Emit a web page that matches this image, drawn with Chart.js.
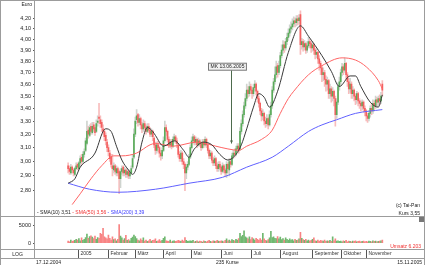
<!DOCTYPE html>
<html>
<head>
<meta charset="utf-8">
<script src="https://cdn.jsdelivr.net/npm/chart.js@4.4.1/dist/chart.umd.min.js"></script>
<style>
  html, body { margin: 0; padding: 0; background: #fff; }
  #wrap { position: relative; width: 425px; height: 265px; overflow: hidden;
          font-family: 'Liberation Sans', Arial, sans-serif; color: #222; }
  #wrap canvas { position: absolute; left: 0; }
  .t { position: absolute; font-size: 5px; line-height: 6px; white-space: nowrap; }
  .ln { position: absolute; background: #9c9c9c; }
</style>
</head>
<body>
<div id="wrap">
  <canvas id="priceChart" width="425" height="217" style="top:0"></canvas>
  <canvas id="volChart" width="425" height="41" style="top:217px"></canvas>

  <div class="ln" style="left:0;top:0;width:425px;height:1px"></div>
  <div class="ln" style="left:0;top:0;width:1px;height:265px"></div>
  <div class="ln" style="left:424px;top:0;width:1px;height:265px"></div>
  <div class="ln" style="left:34px;top:0;width:1px;height:258px"></div>
  <div class="ln" style="left:0;top:216px;width:425px;height:1px"></div>
  <div class="ln" style="left:0;top:249px;width:425px;height:1px"></div>
  <div class="ln" style="left:0;top:258px;width:425px;height:1px"></div>
  <div style="position:absolute;left:419px;top:217px;width:5px;height:5px;background:#777"></div>

  <div class="t" style="right:393px;top:1px">Euro</div>
  <div class="t" style="left:37px;top:209px">
    <span style="color:#222">- SMA(10) 3,51</span>
    <span style="color:#f03030">- SMA(50) 3,56</span>
    <span style="color:#3a3aff">- SMA(200) 3,39</span>
  </div>
  <div class="t" style="right:5px;top:202px">(c) Tai-Pan</div>
  <div class="t" style="right:5px;top:210px">Kurs 3,55</div>
  <div class="t" style="right:4px;top:243px;color:#f03030">Umsatz 6.203</div>
  <div class="t" style="left:0;width:35px;text-align:center;top:251px">LOG</div>
  <div class="t" style="left:36px;top:259px">17.12.2004</div>
  <div class="t" style="left:216px;top:259px">235 Kurse</div>
  <div class="t" style="right:3px;top:259px">15.11.2005</div>
</div>

<script>
// daily bars, 17.12.2004 .. 15.11.2005 (index 0..234)
const opens = [
  2.97,2.95,2.92,2.96,2.94,2.91,2.95,2.98,2.95,2.99,
  3.03,3.00,3.05,3.08,3.13,3.23,3.19,3.26,3.21,3.27,
  3.25,3.22,3.29,3.33,3.31,3.29,3.24,3.22,3.19,3.14,
  3.10,3.06,3.03,2.97,2.94,2.97,2.92,2.95,2.93,2.88,
  2.93,2.96,2.92,2.94,2.91,2.93,2.90,2.92,2.96,3.03,
  3.20,3.31,3.35,3.29,3.32,3.27,3.24,3.28,3.25,3.22,
  3.26,3.23,3.20,3.22,3.17,3.12,3.08,3.12,3.10,3.06,
  3.04,3.08,3.15,3.25,3.22,3.16,3.12,3.14,3.11,3.16,
  3.18,3.15,3.12,3.05,3.02,3.06,3.00,2.98,2.92,2.96,
  2.98,3.03,3.10,3.15,3.18,3.14,3.16,3.12,3.15,3.13,
  3.10,3.14,3.12,3.16,3.12,3.08,3.04,3.06,3.01,2.99,
  3.02,2.97,2.95,2.98,2.96,2.93,2.97,2.94,2.92,2.98,
  2.94,3.00,2.98,3.04,3.06,3.05,3.09,3.11,3.09,3.22,
  3.28,3.35,3.42,3.48,3.55,3.52,3.58,3.55,3.52,3.57,
  3.60,3.54,3.48,3.44,3.38,3.34,3.36,3.30,3.28,3.32,
  3.27,3.35,3.42,3.55,3.62,3.68,3.76,3.70,3.76,3.85,
  3.90,3.95,3.92,3.98,4.02,4.06,4.10,4.12,4.15,4.18,
  4.16,4.20,4.18,4.24,3.95,3.98,3.93,3.96,3.90,3.94,
  3.98,3.96,3.92,3.95,3.90,3.86,3.88,3.82,3.78,3.74,
  3.68,3.70,3.64,3.60,3.63,3.52,3.56,3.50,3.54,3.48,
  3.35,3.45,3.58,3.62,3.70,3.75,3.72,3.78,3.68,3.62,
  3.56,3.60,3.52,3.55,3.50,3.47,3.52,3.46,3.44,3.42,
  3.45,3.40,3.38,3.34,3.32,3.36,3.40,3.38,3.44,3.42,
  3.47,3.45,3.48,3.46,3.60
];
const highs = [
  2.99,2.97,2.98,2.97,2.95,2.96,2.99,2.99,3.00,3.04,
  3.05,3.07,3.09,3.17,3.30,3.26,3.27,3.28,3.29,3.29,
  3.27,3.31,3.34,3.44,3.34,3.31,3.27,3.24,3.21,3.16,
  3.12,3.08,3.05,3.05,2.99,2.98,2.97,2.96,2.94,2.95,
  2.97,2.97,2.96,2.95,2.95,2.94,2.94,2.97,3.05,3.24,
  3.33,3.39,3.36,3.35,3.33,3.29,3.31,3.30,3.27,3.28,
  3.28,3.25,3.24,3.23,3.18,3.14,3.14,3.15,3.11,3.08,
  3.10,3.18,3.30,3.27,3.23,3.18,3.16,3.16,3.18,3.20,
  3.19,3.17,3.13,3.07,3.08,3.07,3.02,2.99,2.98,3.00,
  3.05,3.12,3.18,3.20,3.19,3.18,3.17,3.17,3.16,3.14,
  3.16,3.16,3.18,3.17,3.13,3.09,3.08,3.07,3.03,3.04,
  3.03,2.99,3.00,3.00,2.97,2.99,2.98,2.95,3.00,2.99,
  3.02,3.02,3.06,3.08,3.09,3.11,3.13,3.13,3.25,3.31,
  3.38,3.45,3.52,3.60,3.58,3.62,3.60,3.57,3.60,3.63,
  3.61,3.55,3.50,3.45,3.40,3.39,3.37,3.33,3.35,3.33,
  3.38,3.45,3.58,3.65,3.75,3.80,3.78,3.80,3.88,3.95,
  3.99,3.98,4.01,4.06,4.10,4.14,4.17,4.20,4.22,4.21,
  4.23,4.23,4.24,4.28,4.01,4.00,3.99,3.97,3.98,4.02,
  4.00,3.98,3.98,3.96,3.92,3.91,3.89,3.85,3.80,3.76,
  3.74,3.72,3.67,3.66,3.64,3.60,3.58,3.57,3.55,3.50,
  3.48,3.61,3.66,3.73,3.78,3.77,3.83,3.79,3.70,3.65,
  3.65,3.62,3.58,3.56,3.52,3.54,3.53,3.48,3.46,3.47,
  3.46,3.42,3.39,3.36,3.38,3.42,3.44,3.47,3.46,3.50,
  3.49,3.50,3.51,3.53,3.63
];
const lows = [
  2.92,2.91,2.91,2.92,2.90,2.90,2.94,2.94,2.94,2.97,
  2.98,2.99,3.03,3.07,3.12,3.17,3.18,3.20,3.20,3.22,
  3.19,3.21,3.26,3.28,3.25,3.22,3.20,3.15,3.12,3.07,
  3.04,3.00,2.96,2.90,2.92,2.91,2.90,2.90,2.78,2.82,
  2.91,2.90,2.90,2.89,2.89,2.88,2.88,2.91,2.95,3.02,
  3.18,3.28,3.26,3.27,3.24,3.21,3.22,3.23,3.20,3.21,
  3.21,3.18,3.18,3.15,3.10,3.05,3.06,3.07,3.03,3.01,
  3.02,3.07,3.14,3.19,3.14,3.10,3.10,3.09,3.10,3.14,
  3.13,3.10,3.03,3.00,3.00,2.98,2.95,2.80,2.88,2.94,
  2.97,3.02,3.09,3.13,3.12,3.12,3.10,3.11,3.11,3.08,
  3.09,3.10,3.11,3.10,3.06,3.02,3.02,2.99,2.97,2.97,
  2.95,2.93,2.93,2.94,2.91,2.92,2.92,2.90,2.89,2.92,
  2.90,2.96,2.97,3.02,3.03,3.04,3.07,3.06,3.08,3.20,
  3.26,3.33,3.40,3.46,3.49,3.50,3.52,3.48,3.50,3.54,
  3.51,3.45,3.41,3.35,3.30,3.31,3.27,3.25,3.26,3.24,
  3.26,3.33,3.40,3.53,3.60,3.65,3.66,3.68,3.74,3.83,
  3.87,3.88,3.90,3.95,3.99,4.03,4.07,4.09,4.12,4.12,
  4.13,4.14,4.15,3.86,3.91,3.89,3.90,3.87,3.88,3.92,
  3.92,3.88,3.89,3.86,3.82,3.83,3.78,3.72,3.68,3.62,
  3.63,3.58,3.54,3.55,3.48,3.48,3.45,3.46,3.42,3.26,
  3.32,3.43,3.55,3.60,3.67,3.68,3.70,3.64,3.58,3.52,
  3.53,3.48,3.48,3.46,3.43,3.44,3.42,3.40,3.38,3.39,
  3.37,3.34,3.30,3.29,3.30,3.33,3.35,3.36,3.38,3.40,
  3.41,3.42,3.43,3.44,3.50
];
const closes = [
  2.95,2.93,2.96,2.94,2.92,2.95,2.97,2.96,2.99,3.02,
  3.00,3.05,3.07,3.15,3.22,3.20,3.25,3.22,3.26,3.24,
  3.21,3.28,3.30,3.32,3.28,3.25,3.22,3.18,3.15,3.10,
  3.07,3.02,2.98,2.95,2.97,2.93,2.95,2.92,2.88,2.93,
  2.95,2.92,2.94,2.91,2.93,2.90,2.92,2.95,3.02,3.20,
  3.30,3.34,3.29,3.32,3.27,3.24,3.28,3.25,3.22,3.26,
  3.23,3.20,3.22,3.18,3.12,3.08,3.12,3.10,3.06,3.04,
  3.08,3.15,3.25,3.22,3.16,3.12,3.14,3.11,3.16,3.18,
  3.15,3.13,3.05,3.02,3.06,3.00,2.98,2.92,2.96,2.98,
  3.03,3.10,3.15,3.18,3.14,3.16,3.12,3.15,3.13,3.10,
  3.14,3.12,3.16,3.12,3.08,3.04,3.06,3.01,2.99,3.02,
  2.97,2.95,2.98,2.96,2.93,2.97,2.94,2.92,2.98,2.95,
  3.00,2.98,3.04,3.06,3.05,3.09,3.11,3.08,3.22,3.28,
  3.35,3.42,3.48,3.55,3.52,3.58,3.55,3.52,3.57,3.60,
  3.54,3.48,3.44,3.38,3.34,3.36,3.30,3.28,3.32,3.27,
  3.35,3.42,3.55,3.62,3.68,3.75,3.70,3.76,3.85,3.90,
  3.95,3.92,3.98,4.02,4.06,4.10,4.12,4.15,4.18,4.16,
  4.20,4.18,4.21,3.95,3.98,3.93,3.96,3.90,3.94,3.98,
  3.96,3.92,3.95,3.90,3.86,3.88,3.82,3.78,3.74,3.68,
  3.70,3.64,3.60,3.63,3.52,3.56,3.50,3.54,3.48,3.35,
  3.45,3.58,3.62,3.70,3.75,3.72,3.78,3.68,3.62,3.56,
  3.60,3.52,3.55,3.50,3.47,3.52,3.46,3.44,3.42,3.45,
  3.40,3.38,3.34,3.32,3.36,3.40,3.38,3.44,3.42,3.47,
  3.45,3.48,3.46,3.50,3.55
];
const volumes = [
  600,400,900,500,700,800,1100,900,1300,700,
  1500,800,1100,1600,2600,1400,1900,2100,1700,1300,
  2000,1100,1600,1400,2800,2500,4200,1800,1500,1200,
  2300,1400,900,1800,1000,1200,700,1100,5300,2000,
  1500,900,1300,2200,800,1000,700,1400,1700,2300,
  1900,1300,900,700,1200,800,1500,600,900,500,
  700,1100,600,800,900,1200,500,700,1000,600,
  800,1400,1800,700,600,500,900,400,600,700,
  500,600,800,700,500,900,600,1600,800,500,
  600,700,600,800,400,500,700,400,600,500,
  300,700,500,400,600,800,500,400,700,600,
  500,800,600,500,700,600,400,800,1200,700,
  900,600,1000,800,700,1100,900,1300,2800,1900,
  2200,3500,1800,1500,1200,1800,1000,1600,1200,900,
  1400,1100,800,1300,900,2800,1200,800,700,1000,
  1500,3400,1600,1800,1400,1300,1900,1200,1700,1000,
  1300,900,1500,1100,800,1200,900,1000,700,1100,
  800,900,1200,3100,1400,1000,800,1100,700,900,
  600,800,1100,1500,700,600,900,500,800,700,
  600,900,500,700,600,800,500,1800,700,1200,
  600,700,500,600,400,700,500,800,400,600,
  500,400,600,500,700,400,500,600,400,500,
  600,400,500,400,600,500,400,700,500,600,
  400,500,600,700,900
];

// moving averages (bar index -> value)
const sma10Idx = [0,5,9,20,26,28,32,36,40,45,48,51,55,59,63,65,71,79,86,90,94,101,107,113,119,125,129,133,138,142,146,150,156,164,173,179,189,196,202,210,214,218,225,231,234];
const sma10Val = [2.85,2.88,2.96,3.06,3.22,3.24,3.22,3.11,3.01,2.94,2.91,2.96,3.14,3.25,3.22,3.19,3.11,3.15,3.08,3.03,3.09,3.14,3.12,3.05,3.01,3.05,3.12,3.24,3.41,3.52,3.49,3.41,3.54,3.88,4.13,4.03,3.85,3.71,3.58,3.67,3.67,3.58,3.45,3.41,3.51];
const sma50Idx = [3,9,17,25,34,40,51,61,65,78,96,110,119,127,133,144,152,158,164,168,179,189,204,214,222,231,234];
const sma50Val = [2.71,2.78,2.88,2.97,3.04,3.04,3.06,3.12,3.13,3.11,3.14,3.11,3.09,3.08,3.11,3.16,3.23,3.36,3.48,3.54,3.68,3.76,3.83,3.81,3.75,3.63,3.56];
const sma200Idx = [0,16,37,65,90,115,133,152,164,179,189,200,214,234];
const sma200Val = [2.85,2.81,2.79,2.81,2.85,2.89,2.96,3.03,3.11,3.22,3.27,3.31,3.36,3.39];

const yTicks = [2.8,2.9,3.0,3.1,3.2,3.3,3.4,3.5,3.6,3.7,3.8,3.9,4.0,4.1,4.2];
const volTicks = [0, 5000];
const monthStarts = [8,30,50,71,92,114,137,158,182,204,222];
const monthNames = ['2005','Februar','März','April','Mai','Juni','Juli','August','September','Oktober','November'];

const markIdx = 121;
const markTop = 3.72;
const markBottom = 3.13;
const markLabel = 'MK 13.06.2005';

/* ---------- scale ranges ---------- */
const xMin = -0.6, xMax = 240.2;
const yMin = 2.665, yMax = 4.335;
const volMin = -1667, volMax = 5952;

const FONT = "'Liberation Sans', Arial, sans-serif";
const idx = closes.map((_, i) => i);
const isUp = i => closes[i] >= opens[i];
const pts = (xs, ys) => xs.map((x, k) => ({ x, y: ys[k] }));

const axisY = extra => Object.assign({
  afterFit: s => { s.width = 34; },
  grid: { drawOnChartArea: false, tickLength: 2, color: '#555' },
  border: { display: false }
}, extra);

// annotation: label box with a line pointing down at the bar
const markPlugin = {
  id: 'mark',
  afterDatasetsDraw(chart) {
    const { ctx, scales: { x, y } } = chart;
    const px = Math.round(x.getPixelForValue(markIdx)) + 0.5;
    const top = y.getPixelForValue(markTop);
    const bot = y.getPixelForValue(markBottom);
    ctx.save();
    ctx.strokeStyle = '#4d6b4d';
    ctx.lineWidth = 1;
    ctx.beginPath(); ctx.moveTo(px, top); ctx.lineTo(px, bot); ctx.stroke();
    ctx.fillStyle = '#4d6b4d';
    ctx.beginPath(); ctx.moveTo(px - 1.5, bot - 3); ctx.lineTo(px + 1.5, bot - 3); ctx.lineTo(px, bot); ctx.fill();
    ctx.font = '5px ' + FONT;
    const w = ctx.measureText(markLabel).width + 4;
    const bx = Math.round(px - 5 - w / 2) + 0.5;
    ctx.fillStyle = '#f2f2f2';
    ctx.fillRect(bx, top - 7, w, 7);
    ctx.strokeStyle = '#777';
    ctx.strokeRect(bx, top - 7, w, 7);
    ctx.fillStyle = '#222';
    ctx.textBaseline = 'middle';
    ctx.fillText(markLabel, bx + 2, top - 3.3);
    ctx.restore();
  }
};

// month row under the volume panel
const dateRow = {
  id: 'dateRow',
  afterDraw(chart) {
    const { ctx, scales: { x } } = chart;
    ctx.save();
    ctx.strokeStyle = '#555';
    ctx.fillStyle = '#333';
    ctx.lineWidth = 1;
    ctx.font = '5px ' + FONT;
    ctx.textBaseline = 'middle';
    monthStarts.forEach((m, k) => {
      const px = Math.round(x.getPixelForValue(m - 0.5)) + 0.5;
      ctx.beginPath(); ctx.moveTo(px, 32); ctx.lineTo(px, 41); ctx.stroke();
      ctx.fillText(monthNames[k], px + 2, 36.7);
    });
    ctx.restore();
  }
};

new Chart(document.getElementById('priceChart'), {
  data: {
    datasets: [
      { type: 'line', data: pts(sma10Idx, sma10Val), borderColor: '#383838', borderWidth: 1,
        pointRadius: 0, cubicInterpolationMode: 'monotone', order: 0 },
      { type: 'line', data: pts(sma50Idx, sma50Val), borderColor: '#ff6464', borderWidth: 1,
        pointRadius: 0, cubicInterpolationMode: 'monotone', order: 0 },
      { type: 'line', data: pts(sma200Idx, sma200Val), borderColor: '#6060ff', borderWidth: 1,
        pointRadius: 0, cubicInterpolationMode: 'monotone', order: 0 },
      { type: 'bar', data: idx.map(i => ({ x: i, y: [opens[i], closes[i]] })),
        backgroundColor: idx.map(i => isUp(i) ? '#5aac5a' : '#f46060'),
        barThickness: 1, grouped: false, order: 1 },
      { type: 'bar', data: idx.map(i => ({ x: i, y: [lows[i], highs[i]] })),
        backgroundColor: idx.map(i => isUp(i) ? '#cfd4cf' : '#f8bcbc'),
        barThickness: 1, grouped: false, order: 2 }
    ]
  },
  options: {
    responsive: false, animation: false, devicePixelRatio: 1,
    layout: { padding: { left: 1, right: 2, top: 1, bottom: 1 } },
    plugins: { legend: { display: false }, tooltip: { enabled: false } },
    scales: {
      x: { type: 'linear', min: xMin, max: xMax, display: false },
      y: axisY({
        type: 'logarithmic', min: yMin, max: yMax,
        afterBuildTicks: s => { s.ticks = yTicks.map(v => ({ value: v })); },
        ticks: { font: { size: 5.5, family: FONT }, color: '#222', padding: 2, autoSkip: false,
                 callback: v => v.toFixed(2).replace('.', ',') }
      })
    }
  },
  plugins: [markPlugin]
});

new Chart(document.getElementById('volChart'), {
  type: 'bar',
  data: {
    datasets: [{
      data: idx.map(i => ({ x: i, y: volumes[i] })),
      backgroundColor: idx.map(i => isUp(i) ? '#70b870' : '#f88484'),
      barThickness: 1
    }]
  },
  options: {
    responsive: false, animation: false, devicePixelRatio: 1,
    layout: { padding: { left: 1, right: 2, top: 0, bottom: 9 } },
    plugins: { legend: { display: false }, tooltip: { enabled: false } },
    scales: {
      x: { type: 'linear', min: xMin, max: xMax, display: false },
      y: axisY({
        min: volMin, max: volMax,
        afterBuildTicks: s => { s.ticks = volTicks.map(v => ({ value: v })); },
        ticks: { font: { size: 5.5, family: FONT }, color: '#222', padding: 2, autoSkip: false,
                 callback: v => String(v) }
      })
    }
  },
  plugins: [dateRow]
});
</script>
</body>
</html>
